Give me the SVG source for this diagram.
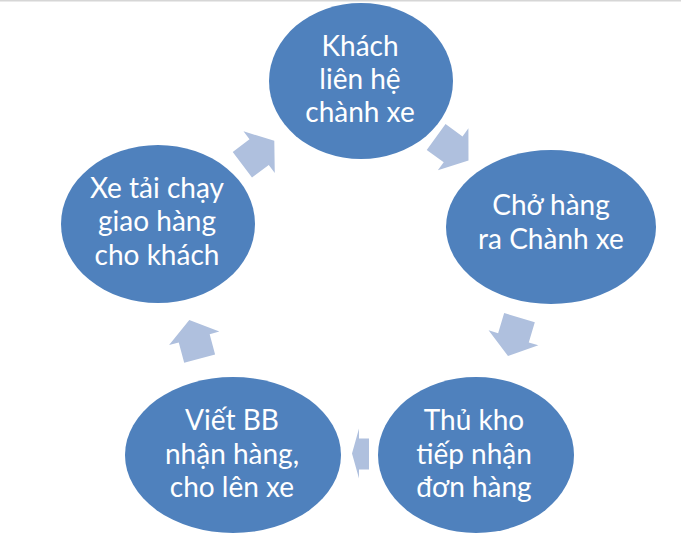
<svg xmlns="http://www.w3.org/2000/svg" width="681" height="535" viewBox="0 0 681 535">
<style>
  .node { fill: #4F81BD; }
  .arrow { fill: #AFC0DE; }
  .lbl { font-family: Lato, "Noto Sans", "Liberation Sans", sans-serif; font-size: 28px; fill: #FFFFFF; text-anchor: middle; }
</style>
<defs>
  <path id="arr" d="M0,-16 L21,-16 L21,-26 L40,0 L21,26 L21,16 L0,16 Z"/>
</defs>
<rect x="0" y="0" width="681" height="535" fill="#FFFFFF"/>
<rect x="0" y="0" width="681" height="1.5" fill="#D6D6D6"/>
<g id="connectors">
  <use href="#arr" class="arrow" transform="translate(468.5,160.5) rotate(36) translate(-40,0)"/>
  <use href="#arr" class="arrow" transform="translate(508,356) rotate(106.7) translate(-40,0)"/>
  <polygon class="arrow" points="352,453.5 359,428.5 359,438.5 369,438.5 369,469.5 359,469.5 359,478.5"/>
  <use href="#arr" class="arrow" transform="translate(189.3,320) rotate(-105) translate(-40,0)"/>
  <use href="#arr" class="arrow" transform="translate(274.3,140.7) rotate(-37) translate(-40,0)"/>
</g>
<g id="node1">
  <ellipse class="node" cx="361" cy="81" rx="92" ry="78"/>
  <text class="lbl" x="360" y="56">Khách</text>
  <text class="lbl" x="360" y="89">liên hệ</text>
  <text class="lbl" x="360" y="122">chành xe</text>
</g>
<g id="node2">
  <ellipse class="node" cx="551" cy="227" rx="105" ry="77"/>
  <text class="lbl" x="551" y="215">Chở hàng</text>
  <text class="lbl" x="551" y="249">ra Chành xe</text>
</g>
<g id="node3">
  <ellipse class="node" cx="476" cy="455" rx="98" ry="78"/>
  <text class="lbl" x="474" y="430">Thủ kho</text>
  <text class="lbl" x="474" y="464">tiếp nhận</text>
  <text class="lbl" x="474" y="497">đơn hàng</text>
</g>
<g id="node4">
  <ellipse class="node" cx="233" cy="455" rx="108" ry="78"/>
  <text class="lbl" x="232" y="430">Viết BB</text>
  <text class="lbl" x="232" y="464">nhận hàng,</text>
  <text class="lbl" x="232" y="497">cho lên xe</text>
</g>
<g id="node5">
  <ellipse class="node" cx="158" cy="224" rx="97" ry="79"/>
  <text class="lbl" x="157" y="198">Xe tải chạy</text>
  <text class="lbl" x="157" y="231">giao hàng</text>
  <text class="lbl" x="157" y="265">cho khách</text>
</g>
</svg>
